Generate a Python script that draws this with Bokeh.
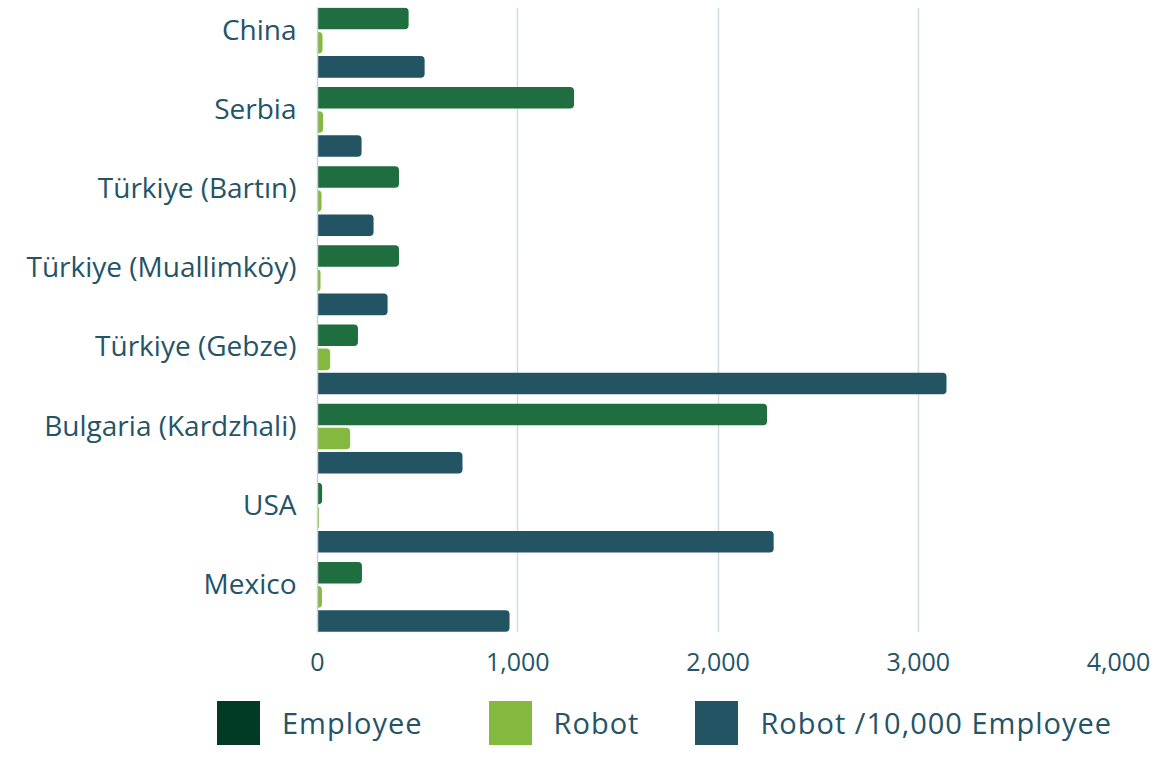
import numpy as np
from bokeh.plotting import figure
from bokeh.layouts import column
from bokeh.models import ColumnDataSource, Range1d, FixedTicker, NumeralTickFormatter, Div
from bokeh.embed import file_html
from bokeh.resources import INLINE

countries = ["China", "Serbia", "Türkiye (Bartın)", "Türkiye (Muallimköy)",
             "Türkiye (Gebze)", "Bulgaria (Kardzhali)", "USA", "Mexico"]
employee = [455, 1281, 407, 407, 202, 2245, 23, 222]
robot = [25, 28, 20, 15, 63, 163, 7, 22]
robot_per_10k = [535, 220, 280, 350, 3141, 724, 2278, 959]
x_ticks = [0, 1000, 2000, 3000, 4000]
series_names = ["Employee", "Robot", "Robot /10,000 Employee"]

bar_colors = ["#1f6e3f", "#84b940", "#235464"]
legend_colors = ["#013b25", "#84b940", "#235464"]
text_color = "#245466"
FONT = "Open Sans"

idx = np.arange(len(countries))
group_shift = 0.177   # group centre sits below its label
offsets = [-0.305, 0.0, 0.305]
bar_h = 0.272

W, H_MAIN, H_LEG = 1158, 693, 52

p = figure(width=W, height=H_MAIN, output_backend="svg", toolbar_location=None,
           x_range=Range1d(0, 4000), y_range=Range1d(7.627, -0.268),
           min_border_left=317, min_border_right=40, min_border_top=7,
           min_border_bottom=61)
p.outline_line_color = None
p.background_fill_color = "white"

for vals, off, col in zip([employee, robot, robot_per_10k], offsets, bar_colors):
    src = ColumnDataSource(dict(y=idx + group_shift + off, right=vals))
    p.hbar(y="y", left=0, right="right", height=bar_h, source=src,
           fill_color=col, line_color=None, border_radius=(0, 4, 4, 0))

# x axis
p.xaxis.ticker = FixedTicker(ticks=x_ticks)
p.xaxis.formatter = NumeralTickFormatter(format="0,0")
p.xaxis.axis_line_color = None
p.xaxis.major_tick_line_color = None
p.xaxis.minor_tick_line_color = None
p.xaxis.major_label_text_font = FONT
p.xaxis.major_label_text_font_size = "25px"
p.xaxis.major_label_text_color = text_color
p.xaxis.major_label_standoff = 14

# y axis
p.yaxis.ticker = FixedTicker(ticks=list(idx))
p.yaxis.major_label_overrides = {int(i): c for i, c in zip(idx, countries)}
p.yaxis.axis_line_color = "#c9d3d6"
p.yaxis.axis_line_width = 1.5
p.yaxis.major_tick_line_color = None
p.yaxis.minor_tick_line_color = None
p.yaxis.major_label_text_font = FONT
p.yaxis.major_label_text_font_size = "28px"
p.yaxis.major_label_text_color = text_color
p.yaxis.major_label_standoff = 15

p.xgrid.ticker = FixedTicker(ticks=x_ticks)
p.xgrid.grid_line_color = "#d3dcdf"
p.xgrid.grid_line_width = 1.5
p.ygrid.grid_line_color = None

# legend as an HTML strip below the plot
gaps = ["0", "66px", "56px"]
item_html = []
for gap, name, col in zip(gaps, series_names, legend_colors):
    item_html.append(
        f'<div style="display:flex;align-items:center;margin-left:{gap}">'
        f'<div style="width:43px;height:44px;background:{col}"></div>'
        f'<span style="margin-left:22px;line-height:44px">{name}</span></div>'
    )
legend_html = (
    f'<div style="display:flex;align-items:flex-end;height:{H_LEG}px;padding-left:217px;'
    f'box-sizing:border-box;font-family:\'{FONT}\',sans-serif;font-size:29px;'
    f'letter-spacing:1px;color:{text_color};white-space:nowrap">' + "".join(item_html) + '</div>'
)
lg = Div(text=legend_html, width=W, height=H_LEG, margin=0)

layout = column(p, lg, spacing=0)
open("out.html", "w").write(file_html(layout, INLINE))
